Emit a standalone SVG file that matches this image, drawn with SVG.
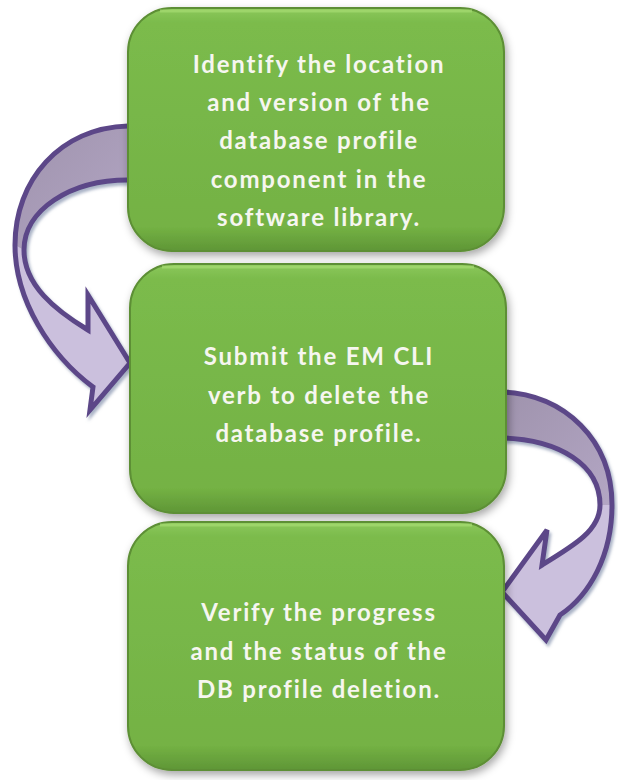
<svg xmlns="http://www.w3.org/2000/svg" width="618" height="780" viewBox="0 0 618 780">
<defs>
<linearGradient id="gBox" x1="0" y1="0" x2="0" y2="1">
<stop offset="0" stop-color="#8cc85a"/>
<stop offset="0.06" stop-color="#7bbb4c"/>
<stop offset="0.9" stop-color="#74b244"/>
<stop offset="1" stop-color="#5f9636"/>
</linearGradient>
<linearGradient id="gDark" x1="0" y1="0" x2="1" y2="1">
<stop offset="0" stop-color="#9f93ad"/>
<stop offset="1" stop-color="#b3a6c4"/>
</linearGradient>
<filter id="sh" x="-10%" y="-10%" width="120%" height="120%">
<feDropShadow dx="2" dy="4" stdDeviation="4" flood-color="#000" flood-opacity="0.35"/>
</filter>
<filter id="ash" x="-10%" y="-10%" width="130%" height="130%">
<feDropShadow dx="2" dy="3" stdDeviation="1.5" flood-color="#7080a0" flood-opacity="0.6"/>
</filter>
<style>
.box{fill:url(#gBox);stroke:#5d8f35;stroke-width:2;filter:url(#sh)}
.hl{fill:none;stroke:#a6dc74;stroke-width:3;opacity:0.7}
.t{font-family:Lato,"Open Sans",sans-serif;font-weight:bold;font-size:24px;fill:#f6f6f0;text-anchor:middle;letter-spacing:1.8px}
.light{fill:#cbc0dd}
.dark{fill:url(#gDark)}
.out{fill:none;stroke:#5c4788;stroke-width:5;stroke-linejoin:miter}
</style>
</defs>
<g id="connectors">
<g id="arrow1" filter="url(#ash)">
<path class="light" d="M128,126 C60,128 15,180 15,245 C15,300 50,355 93,387 L90,410 L130,363 L88,295 L88,330 C55,310 24,285 24,250 C24,210 70,180 128,180 Z"/>
<path class="dark" d="M128,126 C60,128 15,180 15,245 L24,250 C24,210 70,180 128,180 Z"/>
<path class="out" d="M128,126 C60,128 15,180 15,245 C15,300 50,355 93,387 L90,410 L130,363 L88,295 L88,330 C55,310 24,285 24,250 C24,210 70,180 128,180"/>
</g>
<g id="arrow2" filter="url(#ash)">
<path class="light" d="M503,392 C565,395 612,440 612,505 C612,555 590,595 560,615 L546,640 L502,592 L547,530 L542,565 C575,545 600,530 600,505 C600,465 560,440 503,438 Z"/>
<path class="dark" d="M503,392 C565,395 612,440 612,505 L600,505 C600,465 560,440 503,438 Z"/>
<path class="out" d="M503,392 C565,395 612,440 612,505 C612,555 590,595 560,615 L546,640 L502,592 L547,530 L542,565 C575,545 600,530 600,505 C600,465 560,440 503,438"/>
</g>
</g>
<g id="node1">
<rect class="box" x="128" y="8" width="376" height="243" rx="44"/>
<path class="hl" d="M160,11 L472,11"/>
<text class="t" x="319" y="73">Identify the location</text>
<text class="t" x="319" y="111">and version of the</text>
<text class="t" x="319" y="149">database profile</text>
<text class="t" x="319" y="188">component in the</text>
<text class="t" x="319" y="226">software library.</text>
</g>
<g id="node2">
<rect class="box" x="130" y="264" width="376" height="249" rx="44"/>
<path class="hl" d="M162,267 L474,267"/>
<text class="t" x="319" y="365">Submit the EM CLI</text>
<text class="t" x="319" y="404">verb to delete the</text>
<text class="t" x="319" y="442">database profile.</text>
</g>
<g id="node3">
<rect class="box" x="128" y="522" width="376" height="248" rx="44"/>
<path class="hl" d="M160,525 L472,525"/>
<text class="t" x="319" y="621">Verify the progress</text>
<text class="t" x="319" y="660">and the status of the</text>
<text class="t" x="319" y="698">DB profile deletion.</text>
</g>
</svg>
